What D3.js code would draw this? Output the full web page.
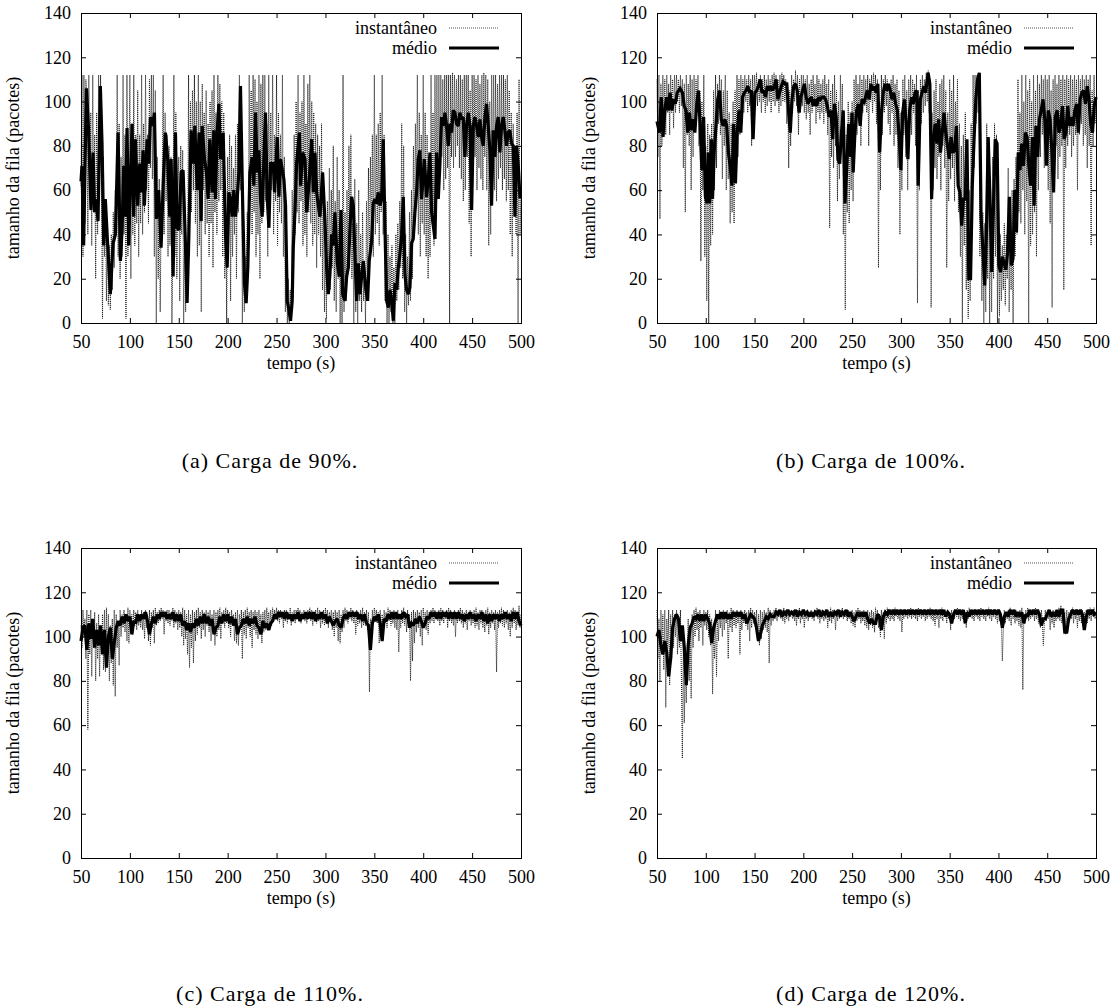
<!DOCTYPE html>
<html><head><meta charset="utf-8">
<script src="https://cdn.jsdelivr.net/npm/d3@7"></script>
<style>body{margin:0;background:#fff}svg{display:block}svg text{font-family:"Liberation Serif","Times New Roman",serif}</style>
</head><body>
<svg id="chart" width="1117" height="1008"></svg>
<script>
// ---------- data ----------
const xTicks = [50,100,150,200,250,300,350,400,450,500];
const yTicks = [0,20,40,60,80,100,120,140];
const xLabel = "tempo (s)";
const yLabel = "tamanho da fila (pacotes)";
const legendLabels = ["instantâneo","médio"];
const captions = ["(a) Carga de 90%.","(b) Carga de 100%.","(c) Carga de 110%.","(d) Carga de 120%."];

// instantaneous queue, one sample per second from t = 50 s to 500 s
const instA = [
62,112,30,112,45,110,100,40,112,60,
95,35,112,50,85,20,95,40,112,55,
112,60,2,75,30,55,10,45,8,35,
6,40,15,50,25,60,40,112,30,90,
20,75,30,112,40,85,2,112,30,70,
112,20,90,40,112,35,85,45,105,30,
85,45,112,40,90,50,112,60,85,45,
110,70,112,65,112,30,105,0,75,20,
65,5,50,60,112,40,95,55,85,30,
80,35,75,0,40,112,30,95,20,60,
75,10,80,40,78,0,40,5,30,15,
112,30,100,50,105,60,112,45,100,30,
112,35,100,5,108,60,95,40,105,45,
90,30,100,45,105,25,112,50,95,40,
112,55,108,60,100,30,95,20,60,0,
75,40,85,10,80,30,70,40,85,20,
90,50,112,60,100,0,40,5,30,15,
50,30,112,55,105,40,112,50,110,30,
100,40,112,20,108,45,112,50,112,55,
90,30,112,50,95,60,112,40,85,55,
112,35,95,50,85,45,112,30,75,5,
40,0,20,0,15,3,60,20,85,40,
100,50,112,45,95,55,100,35,112,40,
90,30,108,50,112,45,100,35,95,40,
90,25,85,40,80,30,90,15,60,5,
40,2,55,20,70,15,60,25,80,10,
55,5,75,20,60,0,40,0,112,5,
50,10,60,25,80,35,85,20,45,0,
65,5,45,0,60,10,40,5,50,10,
25,0,55,15,70,30,75,40,85,30,
112,40,85,45,90,35,95,50,112,40,
85,10,55,0,40,0,30,5,35,0,
25,0,40,10,45,15,55,25,90,20,
80,5,40,0,30,8,50,10,60,20,
80,40,90,55,112,40,95,30,85,45,
112,40,95,30,85,20,70,30,112,45,
95,35,112,50,112,60,112,70,112,75,
110,60,112,65,112,70,112,0,112,75,
113,70,112,75,110,80,112,70,112,65,
110,55,112,60,112,75,112,45,105,30,
112,70,112,75,110,60,112,70,108,65,
112,60,113,75,112,60,110,35,100,40,
112,65,112,60,112,55,108,65,112,70,
112,60,112,65,110,55,112,60,105,40,
95,30,90,55,80,40,95,0,110,40,
60];
const instB = [
110,75,112,47,108,80,112,90,110,85,
112,95,108,85,112,95,110,88,112,95,
112,100,110,95,112,98,110,70,108,50,
112,85,108,80,112,60,110,75,112,90,
110,95,112,80,105,28,100,60,112,30,
80,10,90,0,85,35,90,40,105,60,
112,70,108,90,112,85,110,65,105,80,
112,60,105,65,95,45,90,50,100,45,
105,70,112,75,110,85,112,90,110,95,
112,100,110,95,112,98,110,80,112,95,
112,100,113,98,110,100,112,95,110,100,
112,95,110,98,112,100,110,95,112,100,
113,98,112,100,110,95,112,98,113,100,
112,100,110,90,108,70,105,80,112,95,
110,100,114,98,112,85,110,95,112,98,
112,95,110,92,112,95,108,85,110,95,
112,98,108,90,112,95,110,92,108,95,
110,90,112,95,108,85,110,43,105,75,
108,70,112,80,105,55,100,65,112,80,
108,40,90,6,85,50,100,45,95,60,
100,55,110,80,112,85,108,90,112,80,
110,95,112,98,110,95,112,80,110,100,
112,95,113,100,112,90,110,25,100,60,
112,85,110,95,112,98,110,90,108,85,
110,95,112,80,108,85,110,70,105,40,
95,60,110,85,112,75,105,60,110,90,
112,85,110,95,108,80,112,9,105,60,
110,90,112,95,110,98,113,100,114,95,
110,7,95,60,105,70,110,65,100,75,
108,60,110,80,112,70,105,25,95,55,
110,65,105,70,112,55,100,75,110,50,
90,30,80,0,85,35,95,15,80,2,
60,10,90,40,112,70,112,90,112,95,
113,30,70,10,50,0,45,5,90,20,
80,0,60,5,75,20,90,30,85,0,
60,3,40,10,35,15,45,8,40,20,
70,5,50,15,60,0,65,30,75,40,
110,50,95,45,112,60,100,40,112,55,
105,0,110,35,100,40,112,50,105,30,
112,60,108,75,112,85,110,70,112,75,
110,60,112,45,105,7,110,70,112,80,
108,65,112,75,110,80,112,15,110,70,
112,80,110,85,112,75,110,80,112,85,
110,60,112,85,110,90,112,80,110,85,
112,70,110,80,112,35,105,80,112,90,
100];
const instC = [
105,95,112,100,108,90,112,58,110,92,
112,82,108,95,111,80,106,90,110,82,
105,92,110,85,112,84,113,90,110,80,
105,88,108,78,112,73,110,95,107,87,
112,100,110,104,112,102,110,98,113,97,
112,104,110,101,112,105,111,103,112,105,
110,104,112,103,111,99,112,104,110,98,
112,96,111,104,112,97,113,105,111,106,
112,107,113,108,112,101,111,107,112,106,
112,105,111,107,113,104,112,106,111,103,
112,104,111,100,113,96,112,99,110,92,
112,86,110,95,112,88,111,98,112,101,
113,104,111,99,112,103,111,100,112,105,
111,102,112,98,110,103,112,96,111,100,
112,103,113,99,111,106,112,104,113,106,
112,104,111,100,112,105,110,98,111,97,
112,96,110,104,112,90,111,101,112,99,
113,104,111,100,112,95,111,103,112,101,
111,99,112,104,110,97,111,102,112,103,
113,106,111,103,112,105,113,107,112,108,
113,107,112,106,112,108,111,104,112,107,
112,106,111,108,113,105,111,107,112,106,
112,108,113,107,112,106,111,108,112,107,
111,106,112,108,113,107,112,105,111,108,
112,106,113,107,112,104,111,106,112,105,
113,106,112,104,111,107,112,103,111,100,
112,104,111,98,112,97,110,102,112,104,
113,107,112,106,111,108,113,107,112,106,
111,101,112,105,111,106,112,104,113,105,
111,105,112,103,111,75,108,100,112,106,
113,107,112,106,111,97,112,100,110,99,
112,106,111,104,113,107,112,105,111,106,
112,104,111,103,112,93,110,104,112,106,
113,105,111,102,112,104,110,80,111,89,
112,97,111,102,112,104,111,100,112,96,
113,105,111,103,112,101,111,106,112,107,
113,106,112,108,111,107,112,105,113,107,
112,106,111,108,112,104,113,107,112,106,
111,105,112,100,111,106,112,107,113,106,
112,104,111,106,112,103,111,107,112,105,
111,106,112,104,113,105,111,103,112,106,
112,104,111,102,112,105,113,101,111,104,
112,106,111,103,112,84,111,104,112,106,
113,105,112,104,111,106,112,103,111,100,
112,104,113,106,112,103,111,105,114,104,
110];
const instD = [
112,90,108,80,112,95,110,85,112,68,
108,95,112,78,110,90,112,95,110,100,
112,92,108,95,112,82,45,98,61,90,
70,95,108,80,105,72,110,95,112,100,
113,103,111,98,112,104,110,96,112,105,
111,103,112,100,110,96,108,74,105,90,
112,82,110,98,112,104,111,100,112,103,
111,106,112,90,111,104,113,102,112,105,
111,104,112,106,111,92,112,103,111,106,
112,105,111,103,112,98,113,104,112,106,
111,104,112,98,110,96,112,99,111,103,
112,104,111,102,113,88,112,105,111,107,
112,108,113,107,112,109,111,108,112,107,
113,106,112,108,111,107,112,109,111,108,
112,107,111,105,112,108,113,106,111,108,
112,104,111,108,112,107,111,109,112,108,
111,107,112,109,113,108,111,106,112,108,
112,107,111,108,112,104,111,107,113,106,
112,108,111,103,112,107,111,108,112,109,
113,108,112,109,111,107,112,108,111,106,
112,105,111,104,112,107,113,108,112,106,
111,107,112,105,111,104,112,103,111,105,
112,104,111,102,113,106,112,104,110,100,
112,105,111,99,112,106,113,108,112,107,
111,108,112,107,113,109,112,108,111,107,
112,102,111,108,112,109,111,108,112,109,
113,108,112,109,111,108,112,107,113,109,
112,108,111,109,112,107,111,108,112,109,
113,108,112,107,111,105,112,108,111,104,
112,108,113,107,112,109,111,106,112,108,
111,103,112,107,111,108,112,109,113,108,
112,107,111,108,112,106,111,104,112,108,
113,109,112,108,111,107,112,109,111,108,
112,107,113,109,112,108,111,107,112,109,
113,108,112,107,111,109,112,108,111,106,
112,107,111,108,89,103,112,106,111,108,
112,107,113,105,112,108,111,106,112,107,
111,105,112,104,113,76,110,106,112,108,
113,107,112,108,111,109,112,107,113,108,
112,106,111,104,112,107,96,105,112,107,
111,108,112,103,111,106,112,104,111,107,
112,108,113,107,114,106,112,105,111,101,
112,102,111,107,112,108,113,106,112,108,
111,104,112,107,111,106,112,108,111,103,
112,106,111,108,113,107,112,109,113,108,
111];

// average queue (médio): sample times (s) and values (packets)
const medioA_t = [50,51,52.7,55.5,57.8,60.2,62.3,64,65.7,67.4,69.8,71.5,73.2,74.9,77.3,80,82.8,85.2,87.9,90.3,92,93.7,95.4,97.1,98.8,100.5,102.2,103.9,105.6,108,110.1,111.8,113.5,114.8,117.6,119.3,121,123.4,125.1,127.1,129.5,131.9,134,136.3,138.7,140.8,142.2,144.2,146.6,148.3,150.3,152.4,154.4,156.8,158.5,160.2,162.6,164.7,166.4,168.8,170.8,172.9,173.9,176.3,178.3,180,181.7,184.1,185.8,187.5,189.2,191,192.7,195.4,197.8,199.5,201.2,202.9,204.6,206.3,208,209.7,211.4,213.1,215.2,217.2,218.9,220.6,222.7,225.1,226.8,228.5,230.2,231.9,233.6,235.3,237,238.7,240.4,242.2,243.9,246.6,248,250.7,252.4,254.1,257.5,259.2,260.9,262.6,264.3,266,267.1,268.8,270.5,273.3,274.6,276.7,279.1,280.8,283.5,285.9,287.6,289.3,291,292.7,294.4,297.1,299.5,301.2,302.9,304.6,306.3,308,309.7,312.1,314.2,315.9,317.6,320,321.7,323.4,325.1,326.8,328.5,330.2,331.9,333.6,335.3,337,338.7,341.4,343.1,344.8,347.2,348.9,350.6,352.3,354,355.7,357.4,359.1,360.9,362.6,364.3,366,367.7,369.4,371.1,372.8,374.5,376.2,377.9,379.6,381.3,383,384.7,386.4,388.1,389.8,391.5,393.2,394.9,396.6,398.3,399.4,401.1,403.5,405.2,406.9,408.6,410.3,412,413.7,415.4,417.1,418.8,420.5,422.2,423.9,425.6,427.3,429,430.7,432.4,434.1,435.8,437.5,439.2,440.9,442.6,444.3,446.1,447.8,449.5,451.2,452.9,454.6,456.3,458,459.7,461.4,463.1,464.8,466.5,468.2,469.9,471.6,473.3,475,476.7,478.4,480.1,481.8,483.5,485.2,486.9,488.6,490.4,492.1,493.8,495.5,497.2,498.9,500];
const medioA_v = [64,71,35,106,87,51,77,50,56,46,107,81,35,56,35,13,36,40,86,28,42,71,48,88,35,63,90,48,83,53,72,59,78,53,83,72,93,89,95,47,60,34,62,86,74,48,74,21,86,43,42,68,69,36,9,38,87,72,89,60,86,46,89,74,68,56,83,59,87,56,86,99,74,86,40,25,59,56,48,60,48,56,68,107,57,18,9,25,68,75,62,95,68,78,56,48,74,95,57,43,72,72,59,84,57,74,65,53,10,6,1,10,34,50,72,86,62,77,74,50,65,83,59,77,59,53,48,68,46,25,13,22,40,35,50,27,21,51,13,10,21,25,43,57,53,30,10,27,13,21,28,15,10,28,37,54,56,54,59,53,56,83,42,10,7,15,10,1,18,15,25,31,40,57,22,15,13,16,36,38,50,59,74,78,56,62,74,57,65,77,50,44,38,77,56,72,93,89,95,89,80,90,86,96,95,90,89,95,92,93,75,89,95,89,51,89,93,89,84,92,84,80,93,99,89,78,53,87,75,89,93,77,89,93,87,80,86,87,81,80,48,80,71,57,57];

const medioB_t = [50,52.5,54.3,56.2,58,59.8,61.6,63.4,65.2,67,68.8,70.7,73.6,76.1,77.9,79.7,81.5,83.3,85.1,87,88.8,90.6,92.4,94.2,96,97.8,99.6,101.4,102.5,104,105.8,106.9,108.7,110.5,
112.3,114.1,115.9,117.8,119.6,121.4,123.2,125.0,126.8,128.6,130.4,132.2,134.1,135.9,137.7,139.5,141.3,143.1,144.9,146.7,148.5,150.4,152.2,154.0,155.8,157.6,159.4,161.2,163.0,164.8,166.7,168.5,170.3,172.1,173.9,175.7,177.5,179.3,181.2,183.0,184.8,186.6,188.4,190.2,192.0,193.8,195.6,197.5,199.3,201.1,202.9,204.7,206.5,208.3,210.1,211.9,213.8,215.6,217.4,219.2,221.0,222.8,224.6,226.4,228.3,230.1,231.9,233.7,235.5,237.3,239.1,240.9,242.7,244.6,246.4,248.2,250.0,
251.1,252.9,254.7,256.5,258.3,260.1,261.9,263.8,265.6,267.4,269.2,271.0,272.8,274.6,276.4,278.2,280.1,281.9,283.7,285.5,287.3,289.1,290.9,292.7,294.6,296.4,298.2,300.0,301.8,303.6,305.4,307.2,309.0,310.9,312.7,314.5,316.3,
317.7,319.9,321.7,323.5,325.3,327.9,329.7,331.5,
333.3,335.1,336.9,338.7,340.6,342.4,344.2,346.0,347.8,349.6,351.4,353.2,355.1,356.9,358.7,360.5,362.3,364.1,365.9,367.7,369.6,371.4,373.2,375.0,376.8,378.6,380.4,382.2,384.1,385.9,387.7,389.5,391.3,393.1,394.9,396.7,398.6,400.4,402.2,404.0,405.8,407.6,409.4,411.2,413.1,414.9,416.7,418.5,420.3,422.1,423.9,425.7,427.6,429.4,431.2,433.0,434.8,436.6,438.4,440.2,442.0,443.8,445.7,447.5,449.3,451.1,452.9,454.7,456.5,458.3,460.2,462.0,463.8,465.6,467.4,469.2,471.0,472.8,474.7,476.5,478.3,480.1,481.9,483.7,485.5,487.3,489.2,491.0,492.8,494.6,496.4,498.2,500.0];
const medioB_v = [91,86,102,84,96,102,96,104,96,101,99,104,106,104,98,96,86,95,87,92,86,98,105,90,69,93,57,54,77,54,83,56,78,89,
101,105,92,89,92,89,77,71,62,90,63,86,96,86,102,104,105,107,104,105,83,104,105,107,110,104,105,102,107,105,107,105,107,110,101,104,107,109,108,108,96,86,101,107,108,105,95,102,105,108,102,99,101,102,98,101,98,102,101,102,102,101,98,93,96,83,99,93,74,72,86,96,54,71,90,75,95,
68,86,96,99,89,101,99,102,105,101,108,105,107,104,108,77,95,104,108,105,108,105,101,104,99,96,84,69,95,101,90,74,96,102,99,104,105,
62,101,104,107,104,113,108,56,
83,90,81,92,77,86,95,86,80,74,84,77,78,89,62,59,44,56,56,83,20,20,62,83,101,110,113,48,33,17,41,84,56,23,53,83,81,26,23,30,27,24,32,57,26,29,60,41,77,69,81,71,86,84,71,62,84,53,89,75,92,96,101,92,71,96,92,78,59,93,96,86,89,98,83,86,98,89,93,89,96,99,86,101,104,105,99,107,101,90,86,98,102];

// médio for (c) and (d): one sample every 2 s from t = 50 s
const medioC = [
98,104,105,94,106,99,108,95,103,96,
105,92,103,86,100,104,90,97,104,107,
105,109,106,110,107,109,101,107,106,110,
107,110,108,111,107,101,106,109,106,110,
108,111,109,111,108,110,108,111,107,110,
107,110,105,107,103,106,102,106,104,108,
105,109,106,110,106,109,105,108,101,104,
105,109,106,110,107,110,106,109,105,108,
101,104,105,108,106,109,105,108,106,109,
105,104,101,107,104,106,103,106,107,110,
108,111,109,111,108,111,108,110,107,110,
108,111,107,110,108,111,108,111,108,111,
107,110,108,111,108,110,106,109,107,105,
107,108,105,104,108,110,108,111,109,111,
109,111,108,110,107,110,106,105,94,106,
109,107,110,106,98,108,107,110,108,111,
108,111,108,110,108,111,109,110,104,106,
105,108,106,109,107,104,106,109,108,111,
109,111,108,111,108,111,109,111,108,111,
108,111,108,111,108,110,107,110,108,111,
108,110,107,110,108,111,107,110,106,110,
107,110,108,110,107,110,108,111,108,110,
107,111,108,111,107,105];
const medioD = [
100,103,96,92,98,93,82,90,104,108,
110,108,98,105,95,78,96,104,106,109,
108,110,107,110,107,110,108,106,97,104,
107,110,108,111,108,111,108,110,108,111,
109,111,109,111,108,110,106,108,110,109,
108,104,98,101,105,107,109,108,110,109,
109,111,110,112,109,111,110,112,110,111,
110,112,109,111,110,112,110,111,109,111,
109,111,110,112,109,111,110,112,109,111,
109,111,110,112,109,111,110,112,109,111,
109,107,109,111,109,111,109,111,108,106,
108,106,106,110,109,103,109,111,110,112,
110,112,110,112,110,112,110,112,110,112,
110,112,110,112,110,112,110,112,110,112,
110,112,110,112,110,112,110,112,109,111,
110,106,110,112,110,112,110,112,106,111,
109,112,110,112,110,112,110,112,110,112,
110,112,110,112,110,112,110,104,109,111,
109,112,110,112,109,111,109,111,106,110,
109,112,110,112,110,112,110,105,108,108,
110,112,109,111,109,112,109,112,112,102,
102,108,110,112,110,112,110,112,110,103,
109,112,110,112,110,111];

// ---------- drawing ----------
const svg = d3.select("#chart");
const serif = "Liberation Serif";

const panels = [
  {inst: instA, mt: medioA_t, mv: medioA_v, box: [81, 521, 13, 323], cap: captions[0], capX: 270, capY: 460},
  {inst: instB, mt: medioB_t, mv: medioB_v, box: [657, 1096, 13, 323], cap: captions[1], capX: 871, capY: 460},
  {inst: instC, mt: medioC.map((_, i) => 50 + 2 * i), mv: medioC, box: [81, 521, 548, 858], cap: captions[2], capX: 270, capY: 993},
  {inst: instD, mt: medioD.map((_, i) => 50 + 2 * i), mv: medioD, box: [657, 1096, 548, 858], cap: captions[3], capX: 871, capY: 993}
];

panels.forEach(p => {
  const [x0, x1, y0, y1] = p.box;
  const x = d3.scaleLinear().domain([50, 500]).range([x0, x1]);
  const y = d3.scaleLinear().domain([0, 140]).range([y1, y0]);
  const g = svg.append("g");

  // data lines
  const instLine = d3.line().x((d, i) => x(50 + i)).y(d => y(d));
  g.append("path").datum(p.inst).attr("d", instLine)
    .attr("fill", "none").attr("stroke", "#1a1a1a").attr("stroke-width", 1)
    .attr("stroke-dasharray", "1,1");
  const n = Math.min(p.mt.length, p.mv.length);
  const mData = d3.range(n).map(i => [p.mt[i], p.mv[i]]);
  const mLine = d3.line().x(d => x(d[0])).y(d => y(d[1]));
  g.append("path").datum(mData).attr("d", mLine)
    .attr("fill", "none").attr("stroke", "#000").attr("stroke-width", 3.2)
    .attr("stroke-linejoin", "miter").attr("stroke-miterlimit", 2);

  // axes with inward ticks (mirrored on top/right)
  const styleAxis = sel => {
    sel.attr("font-family", serif);
    sel.select(".domain").remove();
    sel.selectAll("line").attr("stroke", "#000");
    sel.selectAll("text").attr("font-family", serif).attr("font-size", 18).attr("fill", "#000");
  };
  g.append("g").attr("transform", `translate(0,${y1})`)
    .call(d3.axisBottom(x).tickValues(xTicks).tickSizeInner(-5).tickSizeOuter(0).tickPadding(12).tickFormat(d3.format("d")))
    .call(styleAxis);
  g.append("g").attr("transform", `translate(0,${y0})`)
    .call(d3.axisTop(x).tickValues(xTicks).tickSizeInner(-5).tickSizeOuter(0).tickFormat(""))
    .call(styleAxis);
  g.append("g").attr("transform", `translate(${x0},0)`)
    .call(d3.axisLeft(y).tickValues(yTicks).tickSizeInner(-5).tickSizeOuter(0).tickPadding(10).tickFormat(d3.format("d")))
    .call(styleAxis);
  g.append("g").attr("transform", `translate(${x1},0)`)
    .call(d3.axisRight(y).tickValues(yTicks).tickSizeInner(-5).tickSizeOuter(0).tickFormat(""))
    .call(styleAxis);

  g.append("rect").attr("x", x0).attr("y", y0).attr("width", x1 - x0).attr("height", y1 - y0)
    .attr("fill", "none").attr("stroke", "#000").attr("stroke-width", 1).attr("shape-rendering", "crispEdges");

  // axis titles
  g.append("text").attr("x", (x0 + x1) / 2).attr("y", y1 + 46)
    .attr("text-anchor", "middle").attr("font-family", serif).attr("font-size", 18).text(xLabel);
  g.append("text").attr("transform", `translate(${x0 - 62},${(y0 + y1) / 2}) rotate(-90)`)
    .attr("text-anchor", "middle").attr("font-family", serif).attr("font-size", 18).text(yLabel);

  // legend
  const lx = x1 - 84;
  const rows = [y0 + 15, y0 + 35];
  legendLabels.forEach((lab, i) => {
    g.append("text").attr("x", lx).attr("y", rows[i]).attr("dy", "0.35em")
      .attr("text-anchor", "end").attr("font-family", serif).attr("font-size", 18).text(lab);
  });
  g.append("line").attr("x1", x1 - 72).attr("x2", x1 - 22).attr("y1", rows[0]).attr("y2", rows[0])
    .attr("stroke", "#555").attr("stroke-width", 1).attr("stroke-dasharray", "1,1");
  g.append("line").attr("x1", x1 - 72).attr("x2", x1 - 22).attr("y1", rows[1]).attr("y2", rows[1])
    .attr("stroke", "#000").attr("stroke-width", 3.2);

  // caption
  svg.append("text").attr("x", p.capX).attr("y", p.capY).attr("dy", "0.35em")
    .attr("text-anchor", "middle").attr("font-family", serif).attr("font-size", 22)
    .attr("letter-spacing", 1).text(p.cap);
});
</script>
</body></html>
